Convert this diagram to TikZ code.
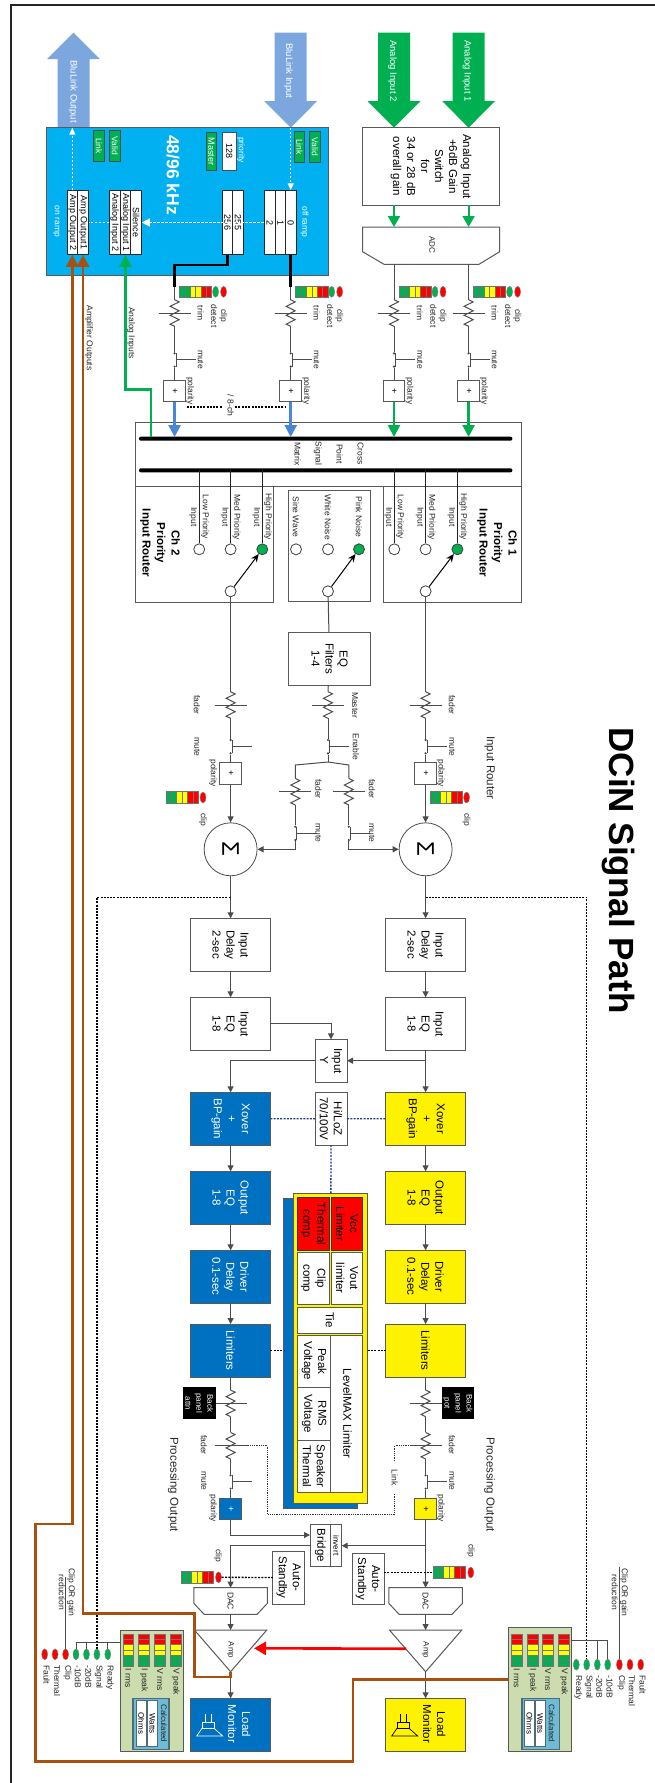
\documentclass[tikz,border=0pt]{standalone}
\usepackage{fontspec}
\setmainfont{Liberation Sans}
\usetikzlibrary{arrows.meta,positioning,shapes.geometric}
\definecolor{lmblue}{HTML}{0070C0}
\definecolor{dspblue}{HTML}{00B0F0}
\definecolor{linkblue}{HTML}{7CA6DE}
\definecolor{tapblue}{HTML}{4A86D8}
\definecolor{ledgrn}{HTML}{00B050}
\definecolor{ledyel}{HTML}{FFFF00}
\definecolor{ledred}{HTML}{FF0000}
\definecolor{brn}{HTML}{A9500F}
\definecolor{navy1}{HTML}{1F3C88}
\definecolor{panelg}{HTML}{CBDCAE}
\definecolor{calcb}{HTML}{6DBBD5}
\definecolor{calcd}{HTML}{4F6B77}
% segment bars
\newcommand{\chmeter}[2]{\begin{scope}[shift={(#1,#2)}]
  \foreach \i/\cl in {0/ledgrn,1/ledgrn,2/ledyel,3/ledyel,4/ledred,5/ledred}
    \filldraw[seg,fill=\cl] (0,\i*5.35) rectangle (11.6,\i*5.35+5.35);
  \end{scope}}
\newcommand{\pmeter}[2]{\begin{scope}[shift={(#1,#2)}]
  \foreach \i/\cl in {0/ledred,1/ledred,2/ledyel,3/ledyel,4/ledgrn,5/ledgrn}
    \filldraw[seg,fill=\cl] (\i*5.33,-5.4) rectangle (\i*5.33+5.33,5.4);
  \end{scope}}
% fader: name, centre
\newcommand{\fader}[3]{%
  \coordinate (#1a) at (#2-13.3,#3); \coordinate (#1b) at (#2+13.3,#3);
  \coordinate (#1c) at (#2,#3-16); \coordinate (#1d) at (#2,#3+16);
  \draw[w] (#1a) -- ++(2.2,4.5) -- ++(4.45,-9) -- ++(4.45,9) -- ++(4.45,-9) -- ++(4.45,9) -- ++(4.45,-9) -- (#1b);
  \draw[w] (#1c) -- (#1d);}
% mute switch: name, first contact
\newcommand{\mutesw}[3]{%
  \node[dot] (#1a) at (#2,#3) {}; \node[dot] (#1b) at (#2+13.3,#3) {};
  \draw[w] (#2,#3+1.5) -- (#2+13.3,#3+1.5);
  \draw[w] (#2+6.65,#3+1.5) -- (#2+6.65,#3+21);}
% one strip in front of the matrix
\newcommand{\instrip}[2]{%
  \coordinate (#1top) at (286.7,#2);
  \chmeter{286}{#2+5}
  \node[led,fill=ledgrn] (#1g) at (291.8,#2+41) {};
  \node[led,fill=ledred] (#1r) at (291.8,#2+49) {};
  \fader{#1t}{313}{#2} \mutesw{#1m}{353.3}{#2}
  \node[pol] (#1p) at (390.8,#2) {+};
  \draw[w] (#1top) -- (#1ta); \draw[w] (#1tb) -- (#1ma); \draw[w] (#1mb) -- (#1p);
  \node[lab] (#1l1) at (316,#2+44.5) {clip\\detect};
  \node[lab] (#1l2) at (313,#2+26) {trim};
  \node[lab] (#1l3) at (359.5,#2+26) {mute};
  \node[lab] (#1l4) at (390.8,#2+15.5) {polarity};}

\begin{document}
\begin{tikzpicture}[rotate=-90,transform shape,x=1pt,y=1pt,
  w/.style={draw=black!70,line width=1pt},
  a/.style={w,-{Triangle[length=6pt,width=6pt]}},
  bx/.style={draw=black!65,line width=1pt,fill=white,inner sep=0pt,outer sep=0pt,align=center,
    font=\fontsize{11.5}{14}\selectfont},
  cb/.style={bx,minimum width=53pt,minimum height=79.4pt},
  sl/.style={draw=black!85,line width=.9pt,fill=white,inner sep=0pt,minimum width=63.6pt,minimum height=10.7pt,
    font=\fontsize{9}{10}\selectfont},
  gb/.style={draw=black!70,line width=.9pt,fill=ledgrn,text=white,inner sep=0pt,minimum width=31.7pt,minimum height=10.8pt,
    font=\fontsize{8.5}{10}\selectfont},
  lab/.style={inner sep=0pt,align=center,text=black!85,font=\fontsize{8.5}{10}\selectfont},
  wl/.style={lab,text=white},
  pol/.style={bx,minimum size=21.5pt,font=\fontsize{9}{10}\selectfont},
  dot/.style={circle,fill=black!75,minimum size=2.4pt,inner sep=0pt},
  led/.style={ellipse,draw=black!50,line width=.4pt,minimum width=11pt,minimum height=6pt,inner sep=0pt},
  seg/.style={draw=black!55,line width=.5pt},
  ct/.style={circle,draw=black!75,line width=.8pt,fill=white,minimum size=11pt,inner sep=0pt},
  stub/.style={draw=black!85,line width=1pt},
  fat/.style={line width=2.5pt,-{Triangle[length=12pt,width=12pt]}},
  hd/.style={inner sep=0pt,align=center,font=\bfseries\fontsize{11.5}{14.5}\selectfont},
  wdash/.style={draw=white,line width=1.2pt,dash pattern=on 2.5pt off 1.5pt},
  bdash/.style={draw=black,line width=1.3pt,dash pattern=on 2pt off 1.3pt}]
\useasboundingbox (0,0) rectangle (1783,655);
\draw[line width=2pt,black!85] (1783,10.5) -- (5,10.5) -- (5,655);
\node[inner sep=0pt,font=\bfseries\fontsize{35}{40}\selectfont] (title) at (870.5,618.5) {DCiN Signal Path};

% big input and output arrows
\foreach \y/\cl in {290.7/linkblue,394/ledgrn,468.6/ledgrn}
  \fill[\cl] (32.7,\y-16) -- (101,\y-16) -- (101,\y-26.5) -- (127.7,\y) -- (101,\y+26.5) -- (101,\y+16) -- (32.7,\y+16) -- cycle;
\fill[linkblue] (127.7,57.5) -- (59,57.5) -- (59,47) -- (32.7,73.5) -- (59,100) -- (59,89.5) -- (127.7,89.5) -- cycle;
\node[wl,font=\fontsize{9.5}{11}\selectfont] (blo) at (91.7,73) {BluLink Output};
\node[wl,font=\fontsize{9.5}{11}\selectfont] (bli) at (71,288.5) {BluLink Input};
\node[wl,font=\fontsize{9.5}{11}\selectfont] (ai2) at (71,392.5) {Analog Input 2};
\node[wl,font=\fontsize{9.5}{11}\selectfont] (ai1) at (71,467) {Analog Input 1};

% dsp block
\node[bx,fill=dspblue,minimum width=147.3pt,minimum height=282pt] (dsp) at (201.35,187) {};
\node[inner sep=0pt,text=white,font=\bfseries\fontsize{17.5}{20}\selectfont] (rate) at (175,173) {48/96 kHz};
\node[gb] (lk2) at (145.8,99) {Link}; \node[gb] (vd2) at (145.8,114.85) {Valid};
\node[gb] (lk1) at (146.8,299.5) {Link}; \node[gb] (vd1) at (146.8,315) {Valid};
\node[gb,minimum width=37.3pt,font=\fontsize{9}{10}\selectfont] (mast) at (151.3,211.5) {Master};
\node[sl,minimum width=37.3pt,minimum height=14.4pt,draw=black!70] (prio) at (151.3,229.2) {128};
\node[wl] (priol) at (150,241) {priority};
\node[wl] (onr) at (221.5,56.4) {on ramp};
\node[wl] (offr) at (222,304.5) {off ramp};
\foreach \n/\y/\t in {s0/290.7/0,s1/280.4/1,s2/269.7/2,s255/238/255,s256/227.4/256,
    sil/136/Silence,sa1/125.4/Analog Input 1,sa2/114.8/Analog Input 2,so1/83/Amp Output1,so2/72.3/Amp Output 2}
  \node[sl] (\n) at (222.5,\y) {\t};
\coordinate (blit) at (127.7,290.7); \coordinate (blob) at (127.7,72.3);
\draw[wdash,-{Triangle[length=7pt,width=6pt,fill=white]}] (blit) -- (s0);
\draw[wdash,-{Triangle[length=8pt,width=8pt,fill=white]}] (s2) -- (sil);
\draw[wdash] (sa2) -- (so1);
\draw[wdash,-{Triangle[length=7pt,width=6pt,fill=white]}] (so2) -- (blob);

% gain stage and converter
\node[bx] (gain) at (166.35,431.1) [minimum width=77.3pt,minimum height=137pt] {Analog Input\\+6dB Gain\\Switch\\for\\34 or 28 dB\\overall gain};
\draw[bx] (227,362.6) -- (251.7,362.6) -- (264.3,384) -- (264.3,479) -- (251.7,499.6) -- (227,499.6) -- cycle;
\node[lab,font=\fontsize{8}{10}\selectfont] (adc) at (245,432) {ADC};
\coordinate (adci2) at (227,394); \coordinate (adci1) at (227,468.6);
\coordinate (adco2) at (264.3,394); \coordinate (adco1) at (264.3,468.6);
\draw[ledgrn,line width=2pt,-{Triangle[length=11pt,width=12pt]}] (205,394) -- (adci2);
\draw[ledgrn,line width=2pt,-{Triangle[length=11pt,width=12pt]}] (205,468.6) -- (adci1);

% input strips
\instrip{ia}{174.6} \instrip{ib}{290.7} \instrip{ic}{394} \instrip{id}{468.6}
\draw[w] (adco2) -- (ictop); \draw[w] (adco1) -- (idtop);
\draw[line width=2.5pt] (s0) -- (ibtop);
\draw[line width=2.5pt] (s256) -- (265,227.4) -- (265,174.6) -- (iatop);
\node[lab] (amo) at (338,89) {Amplifier Outputs};
\node[lab] (ani) at (333,131) {Analog Inputs};
\coordinate (d8a) at (407,186.7); \coordinate (d8b) at (407,222.6);
\coordinate (d8c) at (407,235); \coordinate (d8d) at (407,286);
\draw[bdash] (d8a) -- (d8b); \draw[bdash] (d8c) -- (d8d);
\node[lab] (d8l) at (405.5,230.6) {/ 8-ch};

% matrix
\node[bx,minimum width=63.3pt,minimum height=385.2pt] (xpt) at (454.4,328.4) {};
\node[lab,font=\fontsize{8.5}{21}\selectfont] (xptl) at (453.7,329) {Cross\\Point\\Signal\\Matrix};
\node[fill,rounded corners=2pt,minimum width=4pt,minimum height=373.5pt,inner sep=0pt] (busa) at (438.7,325.7) {};
\node[fill,rounded corners=2pt,minimum width=4pt,minimum height=373.5pt,inner sep=0pt] (busb) at (470.3,325.7) {};
\foreach \n/\y/\cl in {ia/174.6/tapblue,ib/290.7/tapblue,ic/394/ledgrn,id/468.6/ledgrn}{
  \coordinate (\n tap) at (437,\y);
  \draw[\cl,fat] (\n p) -- (\n tap);}
\coordinate (anit) at (437,151.2);
\draw[ledgrn,fat] (anit) -- (389.3,151.2) -- (389.3,125.4) -- (sa1);

% routers
\node[bx,minimum width=116pt,minimum height=137.8pt] (rt2) at (544,204.7) {};
\node[bx,minimum width=116pt,minimum height=137.5pt] (rt1) at (544,452.25) {};
\node[bx,minimum width=111pt,minimum height=81.9pt] (rtg) at (546.2,329.55) {};
\node[hd] (rt2h) at (543,160) {Ch 2\\Priority\\Input Router};
\node[hd] (rt1h) at (543,497) {Ch 1\\Priority\\Input Router};
\foreach \n/\y/\t/\cl in {c2h/262.3/High/ledgrn,c2m/230.6/Med/white,c2l/199.2/Low/white,c1h/457.4/High/ledgrn,c1m/425.6/Med/white,c1l/394.3/Low/white}{
  \coordinate (\n b) at (470.3,\y);
  \node[ct,fill=\cl] (\n) at (549.3,\y) {};
  \draw[stub] (\n b) -- (\n);
  \node[lab,font=\fontsize{8.5}{11.7}\selectfont] (\n l) at (517,\y) {\t{} Priority\\Input};}
\foreach \n/\y/\t/\cl in {cgs/296/Sine Wave/white,cgw/328/White Noise/white,cgp/359/Pink Noise/ledgrn}{
  \node[ct,fill=\cl] (\n) at (549.3,\y) {};
  \node[lab] (\n l) at (517,\y) {\t};}
\foreach \n/\y/\e in {sw2/230.6/c2h,swg/328/cgp,sw1/425.6/c1h}{
  \node[ct] (\n) at (591.3,\y) {};
  \draw[line width=1pt,-{Stealth[length=8pt,width=7pt]}] (\n) -- (\e);}

% generator path
\node[bx,minimum width=52.7pt,minimum height=81.9pt] (eqf) at (658.65,329.55) {EQ\\Filters\\1-4};
\draw[w] (swg) -- (eqf);
\fader{fm}{705}{328} \mutesw{me}{740}{328}
\draw[w] (eqf) -- (fma); \draw[w] (fmb) -- (mea);
\node[lab] (fml) at (705,355) {Master}; \node[lab] (mel) at (746.7,356) {Enable};
\coordinate (gsp) at (762,328);
\foreach \n/\y in {l/295.3,r/348.8}{
  \fader{gf\n}{791.7}{\y} \mutesw{gm\n}{826.7}{\y}
  \draw[w] (gsp) -- (765,\y) -- (gf\n a);
  \draw[w] (gf\n b) -- (gm\n a);
  \node[lab] (gf\n l) at (789,\y+23) {fader};
  \node[lab] (gm\n l) at (833,\y+23) {mute};}
\draw[w] (meb) -- (gsp);

% channels
\foreach \c/\y/\fc/\tc/\ly/\py/\my/\oy/\ol/\gy in {1/425.6/yellow/black/452/440.7/430/466.6/452/489.6,2/230.6/lmblue/white/197/213/166/203/204/173.4}{
  \fader{fi\c}{705}{\y} \mutesw{mi\c}{740}{\y}
  \draw[w] (sw\c) -- (fi\c a); \draw[w] (fi\c b) -- (mi\c a);
  \node[lab] (fi\c l) at (705,\ly) {fader}; \node[lab] (mi\c l) at (746.7,\ly) {mute};
  \node[pol] (pi\c) at (773.6,\y) {+};
  \draw[w] (mi\c b) -- (pi\c);
  \node[lab] (pi\c l) at (773,\py) {polarity};
  \chmeter{791.7}{\my}
  \node[led,fill=ledred] (ci\c) at (797.5,\oy) {};
  \node[lab] (ci\c l) at (819.5,\oy) {clip};
  \node[circle,draw=black!70,line width=.8pt,minimum size=53pt,inner sep=0pt,font=\fontsize{24}{26}\selectfont] (sum\c) at (849.3,\y) {Σ};
  \draw[a] (pi\c) -- (sum\c);
  \node[cb] (dly\c) at (944.8,\y) {Input\\Delay\\2-sec};
  \node[cb,right=26pt of dly\c] (eq\c) {Input\\EQ\\1-8};
  \node[cb,right=42pt of eq\c,fill=\fc,text=\tc] (xov\c) {Xover\\+\\BP-gain};
  \node[cb,right=26pt of xov\c,fill=\fc,text=\tc] (oeq\c) {Output\\EQ\\1-8};
  \node[cb,right=26pt of oeq\c,fill=\fc,text=\tc] (drv\c) {Driver\\Delay\\0.1-sec};
  \node[cb,right=20.7pt of drv\c,fill=\fc,text=\tc] (lim\c) {Limiters};
  \draw[a] (sum\c) -- (dly\c); \draw[a] (dly\c) -- (eq\c);
  \draw[a] (xov\c) -- (oeq\c); \draw[a] (oeq\c) -- (drv\c); \draw[a] (drv\c) -- (lim\c);
  % output faders
  \fader{fp\c}{1403.3}{\y} \fader{fo\c}{1445.7}{\y} \mutesw{mo\c}{1475.3}{\y}
  \draw[w] (lim\c) -- (fp\c a); \draw[w] (fp\c b) -- (fo\c a); \draw[w] (fo\c b) -- (mo\c a);
  \node[lab] (fo\c l) at (1445,\ol) {fader}; \node[lab] (mo\c l) at (1481,\ol) {mute};
  \node[pol,fill=\fc,text=\tc] (po\c) at (1508.8,\y) {+};
  \draw[w] (mo\c b) -- (po\c);
  \node[lab] (po\c l) at (1508,\py) {polarity};
  % load monitor
  \node[cb,fill=\fc] (lm\c) at (1724.8,\y) {};
  \node[inner sep=0pt,align=center,text=\tc,font=\fontsize{11.5}{14}\selectfont] (lm\c l) at (1724,\y+8.6) {Load\\Monitor};
  \begin{scope}[shift={(0,\y)},draw=\tc,line width=.7pt]
    \draw (1722.7,-28.6) rectangle (1728.3,-16.6);
    \draw (1714.3,-24.9) -- (1722.7,-24.9); \draw (1714.3,-18.9) -- (1722.7,-18.9);
    \draw (1728.3,-28.6) -- (1736,-33.9) -- (1736,-7.9) -- (1728.3,-16.6);
  \end{scope}
  % amp
  \coordinate (dci\c) at (1587.7,\y); \coordinate (dco\c) at (1614.3,\y);
  \coordinate (ami\c) at (1630,\y); \coordinate (amo\c) at (1671.7,\y);
  \draw[bx] (1587.7,\y-36.8) -- (1603.3,\y-36.8) -- (1614.3,\y-26.5) -- (1614.3,\y+26.5) -- (1603.3,\y+36.8) -- (1587.7,\y+36.8) -- cycle;
  \node[lab] (dc\c) at (1601,\y) {DAC};
  \draw[bx] (1630,\y-36.2) -- (1630,\y+36.2) -- (1671.7,\y) -- cycle;
  \node[lab,font=\fontsize{8}{10}\selectfont] (am\c) at (1650,\y) {Amp};
  \draw[a] (dco\c) -- (ami\c); \draw[a] (amo\c) -- (lm\c);
  \node[lab,font=\fontsize{11.5}{14}\selectfont] (pr\c) at (1484.7,\gy) {Processing Output};
}
\node[lab,font=\fontsize{11.5}{14}\selectfont] (inrt) at (768,489.6) {Input Router};
\draw[a] (gmlb) -- (849.3,295.3) -- (sum2);
\draw[a] (gmrb) -- (849.3,348.8) -- (sum1);

% processing frame
\draw[line width=1.1pt,dash pattern=on 2pt off 1.2pt] (897.3,230.6) -- (897.3,97) -- (1649,97);
\draw[line width=1.1pt,dash pattern=on 2pt off 1.2pt] (897.3,425.6) -- (897.3,586.7) -- (1659,586.7);

% summing into the y
\node[bx,minimum width=43pt,minimum height=32pt] (iny) at (1060.8,331) {Input\\Y};
\node[bx,minimum width=52.7pt,minimum height=32pt] (hilo) at (1118.7,331) {Hi/LoZ\\70/100V};
\draw[a] (eq2) -- (1023.8,331) -- (iny);
\draw[a] (eq1) -- (xov1);
\draw[a] (1060.7,425.6) -- (1060.7,347);
\draw[a] (iny) -- (1060.8,230.6) -- (xov2);
\draw[navy1,line width=1.3pt,dash pattern=on 2pt off 1.3pt] (xov2) -- (hilo);
\draw[navy1,line width=1.3pt,dash pattern=on 2pt off 1.3pt] (hilo) -- (xov1);

% limiter block
\node[bx,fill=lmblue,minimum width=310.4pt,minimum height=74pt] (levb) at (1353.5,320.6) {};
\node[bx,fill=yellow,minimum width=310.4pt,minimum height=74pt] (levy) at (1348.5,330.6) {};
\draw[navy1,line width=1.3pt,dash pattern=on 2pt off 1.3pt] (hilo) -- (levy);
\node[bx,fill=red,draw=black!80,minimum width=52.3pt,minimum height=31.4pt] (vcc) at (1223.85,346.9) {Vcc\\Limiter};
\node[bx,fill=red,draw=black!80,minimum width=52.3pt,minimum height=31.8pt] (thc) at (1223.85,313.3) {Thermal\\comp};
\node[bx,minimum width=52pt,minimum height=31.4pt] (vout) at (1278.3,346.9) {Vout\\limiter};
\node[bx,minimum width=52pt,minimum height=31.8pt] (clc) at (1278.3,313.3) {Clip\\comp};
\node[bx,minimum width=26pt,minimum height=65.2pt] (tie) at (1320,330) {Tie};
\node[bx,minimum width=157.7pt,minimum height=65.2pt] (lvm) at (1413.85,330) {};
\node[inner sep=0pt,font=\fontsize{11.5}{14}\selectfont] (lvml) at (1413.7,347.5) {LevelMAX Limiter};
\node[bx,minimum width=52.3pt,minimum height=33.4pt] (pkv) at (1361.15,314.1) {Peak\\Voltage};
\node[bx,minimum width=52.7pt,minimum height=33.4pt] (rmv) at (1413.65,314.1) {RMS\\Voltage};
\node[bx,minimum width=52.7pt,minimum height=33.4pt] (spt) at (1466.35,314.1) {Speaker\\Thermal};
\coordinate (lba) at (1350.7,283.6); \coordinate (lya) at (1350.7,367.6);
\coordinate (l2a) at (1350.7,270.3); \coordinate (l1a) at (1350.7,386);
\draw[bdash] (l2a) -- (lba); \draw[bdash] (lya) -- (l1a);

% back panel
\node[fill=black,text=white,align=center,inner sep=0pt,minimum width=32pt,minimum height=32.5pt,font=\fontsize{8}{11}\selectfont] (bk2) at (1403.3,199.25) {Back\\panel\\attn};
\node[fill=black,text=white,align=center,inner sep=0pt,minimum width=32pt,minimum height=32.5pt,font=\fontsize{8}{11}\selectfont] (bk1) at (1403.3,457.75) {Back\\panel\\pot};
\draw[draw=black!80,line width=.8pt,densely dotted] (fo2d) -- (1445.7,267.3) -- (1514,267.3) -- (1514,394.7) -- (1494,394.7);
\draw[draw=black!80,line width=.8pt,densely dotted] (1461,394.7) -- (1445.7,394.7) -- (fo1c);
\node[lab] (lnk) at (1477.5,394.7) {Link};

% bridge and standby
\node[bx,minimum width=42.4pt,minimum height=20.8pt] (bri) at (1545.5,320.4) {Bridge};
\node[bx,minimum width=42.4pt,minimum height=10.9pt,font=\fontsize{8}{10}\selectfont] (inv) at (1545.5,336.25) {invert};
\coordinate (brl) at (1535,310); \coordinate (brr) at (1545.7,341.7); \coordinate (bro) at (1545.7,310);
\draw[a] (po2) -- (1535,230.6) -- (brl);
\draw[a] (bro) -- (1545.7,230.6) -- (dci2);
\draw[a] (po1) -- (dci1);
\draw[a] (1545.7,425.6) -- (brr);
\node[bx,minimum width=53pt,minimum height=31.7pt] (sb2) at (1577.5,288.65) {Auto-\\Standby};
\node[bx,minimum width=50.3pt,minimum height=32pt] (sb1) at (1578.85,368) {Auto-\\Standby};
\chmeter{1571.7}{181} \chmeter{1566.7}{433}
\node[led,fill=ledred] (co2) at (1577.3,218.5) {};
\node[led,fill=ledred] (co1) at (1572.5,470.8) {};
\node[lab] (co2l) at (1556,218) {clip}; \node[lab] (co1l) at (1550.5,470.8) {clip};
\coordinate (sbe) at (1572.5,384); \coordinate (mte) at (1572.5,433);
\draw[bdash] (co2) -- (sb2); \draw[bdash] (sbe) -- (mte);
\coordinate (ampr) at (1648.7,406); \coordinate (ampl) at (1648.3,254);
\draw[red,line width=2.6pt,-{Triangle[length=12pt,width=13pt]}] (ampr) -- (ampl);

% meter panels
\node[bx,fill=panelg,minimum width=120.6pt,minimum height=62.7pt] (pnl2) at (1691,151.65) {};
\node[bx,fill=panelg,minimum width=124.3pt,minimum height=62.6pt] (pnl1) at (1689.15,539.7) {};
\foreach \n/\y/\t in {a/128.2/I rms,b/144.1/I peak,c/160/V rms,d/175.9/V peak,e/516.7/I rms,f/532.6/I peak,g/548/V rms,h/564/V peak}{
  \pmeter{1634}{\y}
  \node[lab,anchor=west] (pl\n) at (1668.5,\y) {\t};}
\node[bx,draw=calcd,line width=1.6pt,fill=calcb,minimum width=51pt,minimum height=35.6pt] (cal2) at (1723.8,151) {};
\node[bx,draw=calcd,line width=1.6pt,fill=calcb,minimum width=51pt,minimum height=37.6pt] (cal1) at (1723.8,540.5) {};
\foreach \n/\y/\t in {x/141.3/Ohms,y/152.3/Watts,u/529.5/Ohms,v/540.2/Watts}
  \node[draw=calcd,line width=.7pt,fill=white,inner sep=0pt,minimum width=46.7pt,minimum height=10pt,font=\fontsize{8}{10}\selectfont] (cv\n) at (1723.4,\y) {\t};
\node[lab,font=\fontsize{8}{10}\selectfont] (cl2) at (1723.4,164) {Calculated};
\node[lab,font=\fontsize{8}{10}\selectfont] (cl1) at (1723.4,551.7) {Calculated};
% leds beside the panels
\foreach \n/\y/\cl/\t in {lf/44.7/ledred/Fault,lt/55.1/ledred/Thermal,lc/65.6/ledred/Clip,l1/76/ledgrn/-10dB,l2/86.5/ledgrn/-20dB,ls/96.9/ledgrn/Signal,lr/107.8/ledgrn/Ready}{
  \node[led,fill=\cl] (\n) at (1654.3,\y) {};
  \node[lab,anchor=west] (\n t) at (1665,\y+2) {\t};}
\foreach \n/\y/\cl/\t in {rr/576.3/ledgrn/Ready,rs/586.7/ledgrn/Signal,r2/597.3/ledgrn/-20dB,r1/607.7/ledgrn/-10dB,rc/619.4/ledred/Clip,rt/630/ledred/Thermal,rf/640.7/ledred/Fault}{
  \node[led,fill=\cl] (\n) at (1664.6,\y) {};
  \node[lab,anchor=west] (\n t) at (1675,\y+2) {\t};}
\coordinate (brk2) at (1642.3,120.3); \coordinate (brk1) at (1640,571);
\draw[w] (brk2) -- (1642.3,76) -- (l1);
\foreach \n/\y in {l2/86.5,lr/107.8} \draw[w] (1642.3,\y) -- (\n);
\draw[w] (brk1) -- (1640,607.7) -- (r1);
\draw[w] (1640,597.3) -- (r2);
\coordinate (crl) at (1576.7,65.6); \coordinate (crr) at (1566.7,619.4);
\draw[w,line width=1.2pt] (crl) -- (lc); \draw[w,line width=1.2pt] (crr) -- (rc);
\node[lab] (crlt) at (1592.3,66.8) {Clip OR gain\\reduction};
\node[lab] (crrt) at (1592.3,620) {Clip OR gain\\reduction};

% amplifier output lines
\coordinate (pin1) at (1679.3,508.4);
\draw[brn,fat,line width=2.8pt] (pin1) -- (1679.3,353) -- (1761.7,353) -- (1761.7,35.5) -- (1524,35.5) -- (1524,72.3) -- (so2);
\draw[brn,fat,line width=2.8pt] (amo2) -- (1677,230.6) -- (1677,194.2) -- (1613.3,194.2) -- (1613.3,83) -- (so1);
\end{tikzpicture}
\end{document}
